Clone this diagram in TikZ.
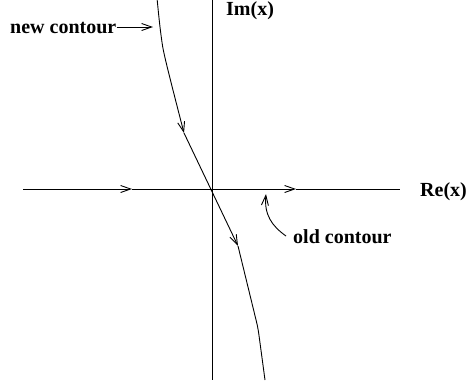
\documentclass[tikz,border=0pt]{standalone}
\usepackage{fontspec}
\setmainfont{Liberation Serif}
\usetikzlibrary{arrows.meta}
\begin{document}
\begin{tikzpicture}[x=1pt,y=-1pt,
  ln/.style={line width=0.9pt},
  barb/.style={-{Straight Barb[length=10pt,width=7pt,line width=0.9pt]}},
  lbl/.style={font=\fontsize{20}{24}\selectfont\bfseries, inner sep=0pt, anchor=base west}]
\useasboundingbox (0,0) rectangle (467,383);
% axes
\coordinate (xl) at (23,189);
\coordinate (xa1) at (132,189);
\coordinate (xa2) at (296,189);
\coordinate (xr) at (400,189);
\coordinate (yt) at (212,-1);
\coordinate (yb) at (212,380);
\draw[ln] (yt) -- (yb);
\draw[ln,barb] (xl) -- (xa1);
\draw[ln,barb] (xa1) -- (xa2);
\draw[ln] (xa2) -- (xr);
% contour
\coordinate (c0) at (157,-2);
\coordinate (c1) at (184,133);
\coordinate (c2) at (238,246);
\coordinate (c3) at (258,328);
\coordinate (c4) at (265,380);
\draw[ln,barb] plot[smooth,tension=0.6] coordinates {(c0) (161,35) (166,62) (c1)};
\draw[ln,barb] (c1) -- (c2);
\draw[ln,rounded corners=6pt] (c2) -- (c3) -- (c4);
% labels
\node[lbl] (im) at (226,15) {Im(x)};
\node[lbl] (re) at (420,196) {Re(x)};
\node[lbl] (new) at (10,33) {new contour};
\node[lbl] (old) at (293,243) {old contour};
\coordinate (newtip) at (153,27);
\coordinate (oldtip) at (266,194);
\draw[ln,barb] (new.east |- 0,27) -- (newtip);
\draw[ln,barb] (286,236) .. controls (272,226) and (264,215) .. (oldtip);
\end{tikzpicture}
\end{document}
